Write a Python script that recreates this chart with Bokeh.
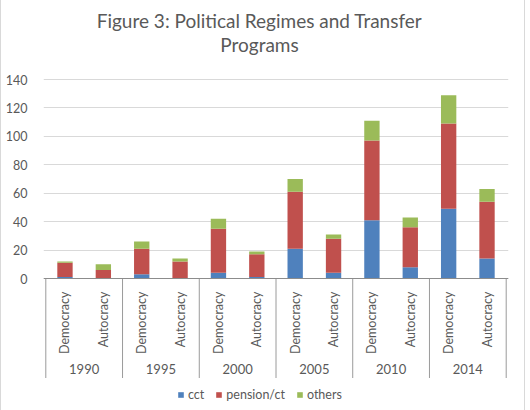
import math
from bokeh.plotting import figure
from bokeh.models import (FactorRange, Range1d, FixedTicker, Legend, LegendItem,
                          Label, ColumnDataSource, CategoricalAxis)
from bokeh.embed import file_html
from bokeh.resources import INLINE

# Number of transfer programs by political regime and year
years = ["1990", "1995", "2000", "2005", "2010", "2014"]
regimes = ["Democracy", "Autocracy"]
cct = [1, 0, 3, 0, 4, 1, 21, 4, 41, 8, 49, 14]
pension = [10, 6, 18, 12, 31, 16, 40, 24, 56, 28, 60, 40]
others = [1, 4, 5, 2, 7, 2, 9, 3, 14, 7, 20, 9]
series = ["cct", "pension/ct", "others"]
colors = ["#4f81bd", "#c0504d", "#9bbb59"]
y_ticks = [0, 20, 40, 60, 80, 100, 120, 140]
title_lines = ["Figure 3: Political Regimes and Transfer", "Programs"]

FONT = "Lato"
GREY = "#595959"

# layout: the plot frame covers the whole chart box, so the title rows, the
# category label rows and the legend are all drawn inside it
FRAME_LEFT, FRAME_W = 42, 465
FRAME_H = 408
VALUE_TOP = 79          # pixel row of the top gridline
PX_PER_UNIT = 199 / max(y_ticks)
y_end = max(y_ticks) + VALUE_TOP / PX_PER_UNIT
y_start = y_end - FRAME_H / PX_PER_UNIT

factors = [(y, r) for y in years for r in regimes]
src = ColumnDataSource(dict(x=factors, cct=cct, pension=pension, others=others))

x_range = FactorRange(*factors, group_padding=0, factor_padding=0,
                      range_padding=0.06, range_padding_units="absolute")

p = figure(x_range=x_range, y_range=Range1d(y_start, y_end),
           frame_width=FRAME_W, frame_height=FRAME_H, title=None,
           min_border_left=FRAME_LEFT, min_border_right=16,
           min_border_top=0, min_border_bottom=2,
           output_backend="svg", toolbar_location=None, x_axis_location=None,
           background_fill_color="white", border_fill_color="white")
p.outline_line_color = None
p.styles = {"border-left": "1px solid #d9d9d9", "border-right": "1px solid #d9d9d9"}

# two-line chart title, centred over the chart area
title_cx = 258 - FRAME_LEFT
for line, top_gap in zip(title_lines, [20, 44]):
    p.add_layout(Label(x=title_cx, y=FRAME_H - top_gap,
                       x_units="screen", y_units="screen", text=line,
                       text_align="center", text_baseline="alphabetic",
                       text_font=FONT, text_font_size="19px", text_color=GREY))

# stacked bars
renderers = p.vbar_stack(["cct", "pension", "others"], x="x", width=0.4, source=src,
                         color=colors, line_color=None)

# value axis
p.yaxis.ticker = FixedTicker(ticks=y_ticks)
p.yaxis.axis_line_color = None
p.yaxis.major_tick_line_color = None
p.yaxis.minor_tick_line_color = None
p.yaxis.major_label_standoff = 10
p.yaxis.major_label_text_font = FONT
p.yaxis.major_label_text_font_size = "12.5px"
p.yaxis.major_label_text_color = GREY
p.ygrid.ticker = FixedTicker(ticks=y_ticks)
p.ygrid.grid_line_color = "#d9d9d9"
p.xgrid.grid_line_color = None

# category axis pinned at zero
xaxis = CategoricalAxis(fixed_location=0)
xaxis.axis_line_color = "#8c8c8c"
xaxis.major_tick_line_color = None
xaxis.minor_tick_line_color = None
xaxis.major_label_orientation = math.pi / 2
xaxis.major_label_standoff = 7
xaxis.major_label_text_font = FONT
xaxis.major_label_text_font_size = "12.5px"
xaxis.major_label_text_color = GREY
xaxis.group_text_font = FONT
xaxis.group_text_font_size = "13px"
xaxis.group_text_font_style = "normal"
xaxis.group_text_color = GREY
xaxis.separator_line_color = None
p.add_layout(xaxis, "below")

# separators between the year groups, running down through both label rows
edges = [2 * i for i in range(len(years) + 1)]
p.segment(x0=edges, x1=edges, y0=[0] * len(edges), y1=[-70] * len(edges),
          line_color="#9a9a9a", line_width=1)

# legend along the bottom, centred under the chart
legend = Legend(items=[LegendItem(label=s, renderers=[r]) for s, r in zip(series, renderers)],
                orientation="horizontal", location=(134, 6),
                border_line_color=None, background_fill_alpha=0,
                glyph_width=7, glyph_height=7, label_standoff=4, spacing=11,
                padding=0, margin=0, label_height=14, label_width=0,
                label_text_font=FONT, label_text_font_size="12.5px",
                label_text_color=GREY)
p.add_layout(legend, "center")

open("out.html", "w").write(file_html(p, INLINE))
